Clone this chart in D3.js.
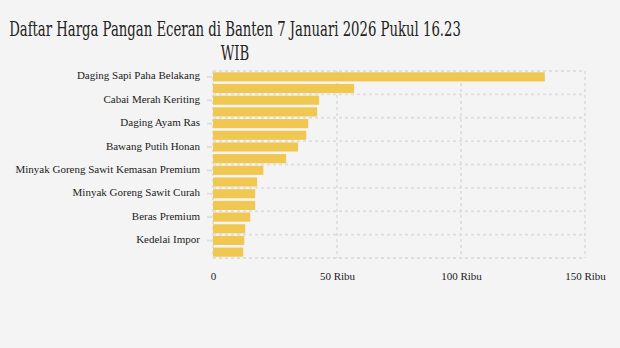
<!DOCTYPE html>
<html><head><meta charset="utf-8">
<script src="https://cdn.jsdelivr.net/npm/d3@7"></script>
<style>body{margin:0;background:#f4f4f4;} svg{display:block;}</style>
</head><body>
<script>
const categories = [
  "Daging Sapi Paha Belakang","Cabai Rawit Merah","Cabai Merah Keriting","Bawang Merah",
  "Daging Ayam Ras","Ikan Bandeng","Bawang Putih Honan","Telur Ayam Ras",
  "Minyak Goreng Sawit Kemasan Premium","Gula Pasir Curah","Minyak Goreng Sawit Curah","Minyakita",
  "Beras Premium","Beras Medium","Kedelai Impor","Tepung Terigu"
];
const values = [133800,56900,42800,42000,38400,37600,34300,29500,20300,17800,17000,17000,15000,13000,12600,12200];
const xTicks = [0,50000,100000,150000];
const xTickLabels = ["0","50 Ribu","100 Ribu","150 Ribu"];
const titleLines = ["Daftar Harga Pangan Eceran di Banten 7 Januari 2026 Pukul 16.23","WIB"];

const W=620,H=348;
const m={left:213,right:35,top:71,bottom:90};
const svg=d3.select("body").append("svg").attr("width",W).attr("height",H);
svg.append("rect").attr("width",W).attr("height",H).attr("fill","#f4f4f4");

const x=d3.scaleLinear().domain([0,150000]).range([m.left,W-m.right]);
const y=d3.scaleBand().domain(categories).range([m.top,H-m.bottom]).paddingInner(0.22).paddingOuter(0.11);

const grid=svg.append("g");
const bandTop=categories.map((d,i)=>m.top+i*((H-m.bottom-m.top)/categories.length));
const hLines=bandTop.filter((d,i)=>i%2===0).concat([H-m.bottom]);
grid.selectAll("line.h").data(hLines).join("line").attr("class","h")
  .attr("x1",x(0)).attr("x2",x(150000)).attr("y1",d=>d).attr("y2",d=>d)
  .attr("stroke","#dedede").attr("stroke-width",1.8).attr("stroke-dasharray","3,3");
grid.selectAll("line.v").data(xTicks).join("line").attr("class","v")
  .attr("x1",d=>x(d)).attr("x2",d=>x(d)).attr("y1",m.top).attr("y2",H-m.bottom)
  .attr("stroke","#dedede").attr("stroke-width",1.8).attr("stroke-dasharray","3,3");

svg.selectAll("rect.bar").data(values).join("rect").attr("class","bar")
  .attr("x",x(0)).attr("y",(d,i)=>y(categories[i])).attr("height",y.bandwidth())
  .attr("width",d=>x(d)-x(0)).attr("fill","#f0c751");

// y axis
const yAxis=d3.axisLeft(y).tickValues(categories.filter((d,i)=>i%2===0)).tickSize(5).tickPadding(7);
const gy=svg.append("g").attr("transform",`translate(${m.left-1},0)`).call(yAxis);
gy.select(".domain").remove();
gy.selectAll(".tick line").attr("stroke","#dedede").attr("stroke-width",1.8);
gy.selectAll(".tick text").attr("font-family","Liberation Serif").attr("font-size",11).attr("fill","#222").attr("y",-1);

// x axis
const xAxis=d3.axisBottom(x).tickValues(xTicks).tickFormat((d,i)=>xTickLabels[i]).tickSize(0).tickPadding(10);
const gx=svg.append("g").attr("transform",`translate(0,${H-m.bottom+4})`).call(xAxis);
gx.select(".domain").remove();
gx.selectAll(".tick text").attr("font-family","Liberation Serif").attr("font-size",11).attr("fill","#222");

const tg=svg.append("g");
const t=tg.append("text").attr("text-anchor","middle").attr("font-family","DejaVu Serif").attr("font-size",19.5).attr("fill","#222");
t.selectAll("tspan").data(titleLines).join("tspan").attr("x",0).attr("y",(d,i)=>i*24).text(d=>d);
const w0=t.select("tspan").node().getComputedTextLength();
tg.attr("transform",`translate(235,36) scale(${452/w0},1)`);
</script>
</body></html>
